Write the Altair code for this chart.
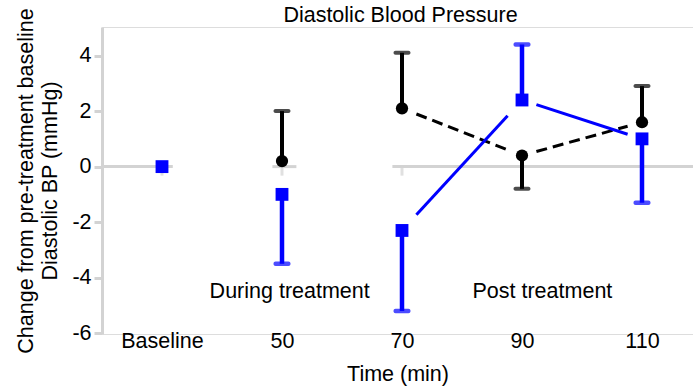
import altair as alt
import pandas as pd

# ---------------- data ----------------
times = ["Baseline", "50", "70", "90", "110"]
pos = [0, 1, 2, 3, 4]

blue_mean = [0.0, -1.0, -2.3, 2.4, 1.0]
blue_err = [None, -3.5, -5.2, 4.4, -1.3]

black_mean = [None, 0.2, 2.1, 0.4, 1.6]
black_err = [None, 2.0, 4.1, -0.8, 2.9]

# pairs of time indices joined by lines (post-treatment only)
links = [(2, 3), (3, 4)]

# broken x-axis pieces drawn along y = 0 (in time-index units)
axis_pieces = [(-0.5, 0.09), (0.92, 1.12), (1.92, 4.43)]

annot_text = ["During treatment", "Post treatment"]
annot_pos = [1.064, 3.17]
annot_y = [-4.73, -4.73]

y_ticks = [-6, -4, -2, 0, 2, 4]

# ---------------- tables ----------------
blue_pts = pd.DataFrame({"x": pos, "y": blue_mean, "e": blue_err})
black_pts = pd.DataFrame({"x": pos, "y": black_mean, "e": black_err}).dropna(subset=["y"])
blue_eb = blue_pts.dropna(subset=["e"])
black_eb = black_pts.dropna(subset=["e"])

TRIM = 0.12


def segs(means):
    rows = []
    for a, b in links:
        x1, x2, y1, y2 = pos[a], pos[b], means[a], means[b]
        rows.append({
            "xa": x1 + TRIM * (x2 - x1), "xb": x2 - TRIM * (x2 - x1),
            "ya": y1 + TRIM * (y2 - y1), "yb": y2 - TRIM * (y2 - y1),
        })
    return pd.DataFrame(rows)


blue_seg = segs(blue_mean)
black_seg = segs(black_mean)

axis_df = pd.DataFrame({"xa": [p[0] for p in axis_pieces],
                        "xb": [p[1] for p in axis_pieces],
                        "y": [0] * len(axis_pieces)})
tick_df = pd.DataFrame({"x": pos, "y": [0] * len(pos)})
annot_df = pd.DataFrame({"x": annot_pos, "y": annot_y, "t": annot_text})

# ---------------- scales / axes ----------------
FONT = "Liberation Sans"
FS = 21.5
GRAY = "#d3d3d3"

xscale = alt.Scale(domain=[-0.5, 4.425], nice=False, zero=False)
yscale = alt.Scale(domain=[-6.03, 5.03], nice=False, zero=False)

label_arr = "[" + ",".join("'" + t + "'" for t in times) + "]"
xaxis = alt.Axis(values=pos, labelExpr=label_arr + "[datum.value]", domain=False,
                 ticks=False, tickSize=0, grid=False, labelPadding=13,
                 labelBaseline="alphabetic", labelFont=FONT, labelFontSize=FS,
                 labelColor="black", title="Time (min)", titleFont=FONT,
                 titleFontSize=FS, titleFontWeight="normal", titleColor="black",
                 titleBaseline="alphabetic", titleY=46, labelFlush=False)
yaxis = alt.Axis(values=y_ticks, labelExpr="toString(datum.value)", domain=True,
                 domainColor=GRAY, domainWidth=3, ticks=True, tickColor=GRAY,
                 tickWidth=3, tickSize=8, grid=False, labelPadding=3,
                 labelFont=FONT, labelFontSize=FS, labelColor="black",
                 title=["Change from pre-treatment baseline", "Diastolic BP (mmHg)"],
                 titleFont=FONT, titleFontSize=FS, titleFontWeight="normal",
                 titleColor="black", titleLineHeight=24, titleBaseline="alphabetic",
                 titleX=-70, labelFlush=False)


def X(field):
    return alt.X(field, type="quantitative", scale=xscale, axis=xaxis)


def Y(field):
    return alt.Y(field, type="quantitative", scale=yscale, axis=yaxis)


# ---------------- layers ----------------
zero_line = alt.Chart(axis_df).mark_rule(color=GRAY, strokeWidth=3).encode(
    x=X("xa"), x2="xb", y=Y("y"))
zero_ticks = alt.Chart(tick_df).mark_tick(orient="vertical", color=GRAY, size=9,
                                          thickness=3, yOffset=4.5).encode(
    x=X("x"), y=Y("y"))

black_lines = alt.Chart(black_seg).mark_rule(color="black", strokeWidth=3,
                                             strokeDash=[11, 6]).encode(
    x=X("xa"), x2="xb", y=Y("ya"), y2="yb")
blue_lines = alt.Chart(blue_seg).mark_rule(color="#0000ff", strokeWidth=3).encode(
    x=X("xa"), x2="xb", y=Y("ya"), y2="yb")

black_bar = alt.Chart(black_eb).mark_rule(color="black", strokeWidth=4).encode(
    x=X("x"), y=Y("y"), y2="e")
black_cap = alt.Chart(black_eb).mark_tick(orient="horizontal", color="black", size=17,
                                          thickness=4, cornerRadius=2).encode(
    x=X("x"), y=Y("e"))
black_dot = alt.Chart(black_pts).mark_circle(color="black", size=150, opacity=1).encode(
    x=X("x"), y=Y("y"))

blue_bar = alt.Chart(blue_eb).mark_rule(color="#0000ff", strokeWidth=4.5).encode(
    x=X("x"), y=Y("y"), y2="e")
blue_cap = alt.Chart(blue_eb).mark_tick(orient="horizontal", color="#0000ff", size=17,
                                        thickness=4.5, cornerRadius=2).encode(
    x=X("x"), y=Y("e"))
blue_sq = alt.Chart(blue_pts).mark_square(color="#0000ff", size=165, opacity=1).encode(
    x=X("x"), y=Y("y"))

annots = alt.Chart(annot_df).mark_text(font=FONT, fontSize=FS, color="black",
                                       baseline="alphabetic", align="center").encode(
    x=X("x"), y=Y("y"), text="t:N")

chart = alt.layer(
    zero_line, zero_ticks, black_lines, black_bar, black_cap, black_dot,
    blue_lines, blue_bar, blue_cap, blue_sq, annots,
).properties(
    width=591, height=307,
    title=alt.TitleParams("Diastolic Blood Pressure", font=FONT, fontSize=FS,
                          fontWeight="normal", color="black", anchor="middle",
                          frame="group", baseline="alphabetic", offset=-35.5, dx=3),
    autosize=alt.AutoSizeParams(type="none"),
    padding={"left": 102, "top": 27, "right": 0, "bottom": 55},
).configure_view(stroke=None).configure(background="white")

chart.save("out.html", embed_options={"renderer": "svg", "actions": False})
